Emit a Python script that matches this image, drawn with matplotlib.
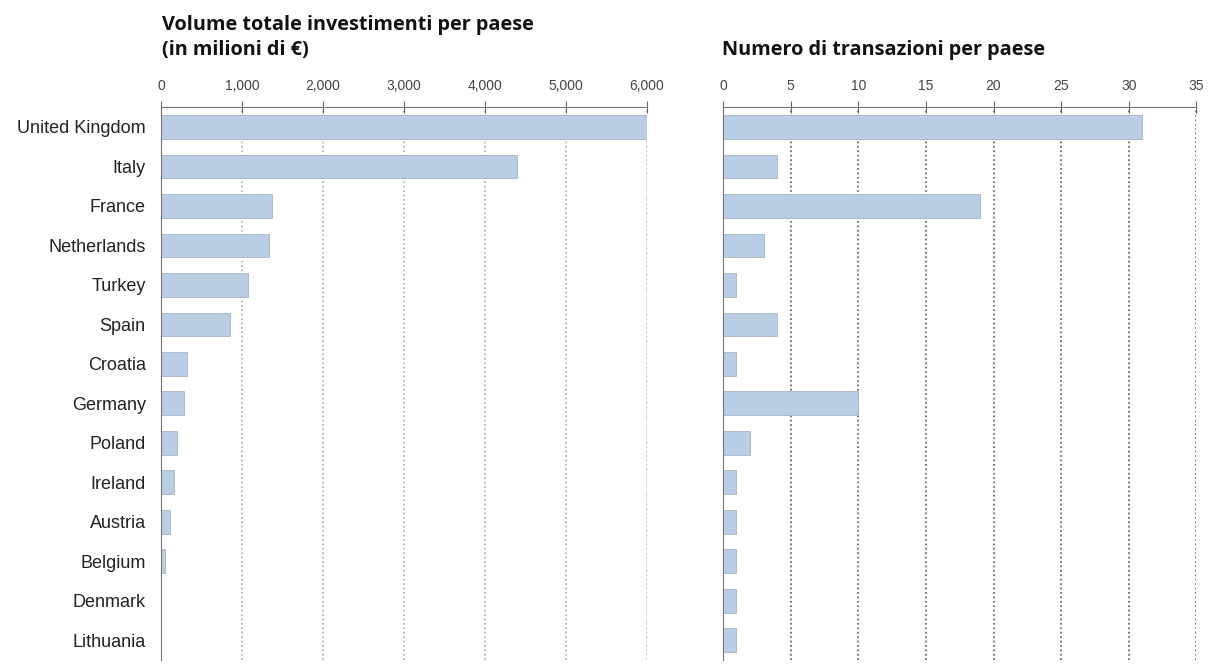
import matplotlib.pyplot as plt

countries = ["United Kingdom", "Italy", "France", "Netherlands", "Turkey", "Spain",
             "Croatia", "Germany", "Poland", "Ireland", "Austria", "Belgium",
             "Denmark", "Lithuania"]
volume = [6000, 4400, 1370, 1330, 1075, 850, 320, 285, 200, 160, 110, 50, 5, 3]
transactions = [31, 4, 19, 3, 1, 4, 1, 10, 2, 1, 1, 1, 1, 1]

vol_ticks = [0, 1000, 2000, 3000, 4000, 5000, 6000]
vol_labels = ["0", "1,000", "2,000", "3,000", "4,000", "5,000", "6,000"]
tx_ticks = [0, 5, 10, 15, 20, 25, 30, 35]

BAR = "#b9cde5"
EDGE = "#a3b4c8"

fig = plt.figure(figsize=(12.11, 6.70), dpi=100)
ax1 = fig.add_axes([0.133, 0.015, 0.401, 0.825])
ax2 = fig.add_axes([0.597, 0.015, 0.391, 0.825])

ypos = list(range(len(countries)))


def style(ax, ticks, labels, xmax, grid_color):
    ax.set_xlim(0, xmax)
    ax.set_ylim(len(countries) - 0.5, -0.5)
    ax.xaxis.tick_top()
    ax.set_xticks(ticks)
    ax.set_xticklabels(labels, family="Liberation Sans", fontsize=10, color="#444444")
    ax.tick_params(axis="x", direction="inout", length=8, color="#666666", pad=6)
    ax.tick_params(axis="y", length=0)
    for s in ["right", "bottom"]:
        ax.spines[s].set_visible(False)
    ax.spines["top"].set_color("#777777")
    ax.spines["left"].set_color("#777777")
    ax.grid(axis="x", color=grid_color, linestyle=":", linewidth=1.2)
    ax.set_axisbelow(True)


ax1.barh(ypos, volume, height=0.6, color=BAR, edgecolor=EDGE, linewidth=0.6)
style(ax1, vol_ticks, vol_labels, 6000, "#aaaaaa")
ax1.set_yticks(ypos)
ax1.set_yticklabels(countries, family="Liberation Sans", fontsize=13, color="#222222")
ax1.tick_params(axis="y", pad=11)

ax2.barh(ypos, transactions, height=0.6, color=BAR, edgecolor=EDGE, linewidth=0.6)
style(ax2, tx_ticks, [str(t) for t in tx_ticks], 35, "#555555")
ax2.set_yticks([])

fig.text(0.134, 0.963, "Volume totale investimenti per paese", family="Open Sans",
         fontweight="bold", fontsize=14.3, ha="left", va="center", color="#111111")
fig.text(0.134, 0.926, "(in milioni di \u20ac)", family="Open Sans",
         fontweight="bold", fontsize=14.3, ha="left", va="center", color="#111111")
fig.text(0.596, 0.925, "Numero di transazioni per paese", family="Open Sans",
         fontweight="bold", fontsize=14.3, ha="left", va="center", color="#111111")

fig.savefig("out.png", dpi=100)
